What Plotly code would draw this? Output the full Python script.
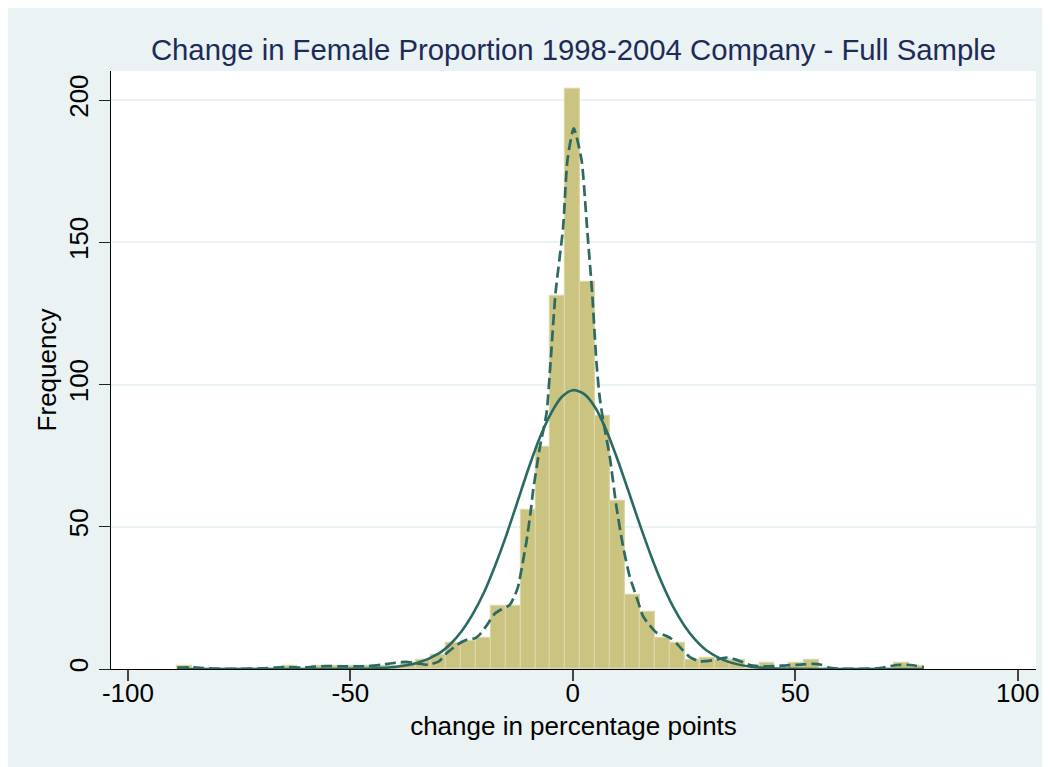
import plotly.graph_objects as go

# ---- data ----
bin_start = -88.93
bin_width = 3.356
counts = [1, 0, 0, 0, 0, 0, 0, 1, 0, 1, 1, 1, 1, 1, 1, 2, 3, 5, 9, 10,
          11, 22, 22, 56, 78, 131, 204, 136, 89, 59, 26, 20, 11, 9, 3, 4,
          3, 3, 0, 2, 0, 2, 3, 0, 0, 0, 0, 0, 2, 1]

normal_x = [-88.9, -70, -60, -50, -45, -40, -35, -30, -27.5, -25, -22.5, -20,
            -17.5, -15, -12.5, -10, -7.5, -5, -2.5, 0, 2.5, 5, 7.5, 10, 12.5,
            15, 17.5, 20, 22.5, 25, 27.5, 30, 35, 40, 45, 50, 60, 78.9]
normal_y = [0, 0, 0, 0.05, 0.2, 0.7, 2.1, 5.6, 8.8, 13.3, 19.3, 26.8,
            36.2, 46.8, 58.5, 70.3, 81, 89.6, 95.6, 98, 96.7, 92, 84, 73.8, 62.5,
            51, 40.1, 30.3, 22, 15.4, 10.3, 6.6, 2.5, 0.8, 0.23, 0.06, 0, 0]

kernel_x = [-88.9, -86, -83, -80, -75, -70, -67, -64, -61, -58, -55, -52, -49,
            -46, -43, -40, -37.5, -35, -32.5, -30, -28.4, -26, -24, -22, -21,
            -19.5, -17.5, -16, -14.2, -13, -12.3, -11.3, -10.4, -9.5, -8.9,
            -7.4, -5.9, -5, -3.9, -2.2, -1.2, 0.2, 1.95, 3.2, 4.35, 5.3, 6.0,
            6.8, 8.3, 9.8, 11.3, 12.8, 14.3, 15.8, 17.2, 18.8, 20.3, 22, 23.3,
            24.8, 26.3, 28.5, 30, 31.5, 34.5, 36.8, 39.8, 42.8, 45.5, 48, 51,
            54, 56, 57.5, 60, 65, 69, 71, 73, 76, 78.9]
kernel_y = [0.5, 0.6, 0.3, 0.1, 0.05, 0.2, 0.5, 0.7, 0.5, 0.8, 1.0, 0.9, 0.9,
            1.0, 1.5, 2.2, 2.5, 2.0, 1.5, 2.8, 5.5, 8.5, 10.2, 10.8, 12,
            15, 19.5, 21, 22.5, 26, 29, 37, 45, 55, 63,
            78, 90, 108, 132, 155, 179, 190, 179, 155, 132, 108, 96,
            87.5, 74.6, 57, 43, 32.4, 25.4, 18.5, 15.5, 12.8, 12.0, 10.8, 9.0,
            6.5, 4.2, 2.7, 2.8, 3.1, 4.0, 3.2, 1.4, 0.9, 1.0, 1.3, 1.5,
            1.8, 1.4, 0.5, 0.1, 0.05, 0.3, 0.9, 1.4, 1.4, 0.6]

title_text = "Change in Female Proportion 1998-2004 Company - Full Sample"
x_title = "change in percentage points"
y_title = "Frequency"
x_ticks = [-100, -50, 0, 50, 100]
x_ticklabels = ["-100", "-50", "0", "50", "100"]
y_ticks = [0, 50, 100, 150, 200]

# ---- styling ----
BG = "#eaf2f3"
BAR = "#cbc380"
BAR_EDGE = "#dcd7a6"
LINE = "#2a6a62"
FONT = "Liberation Sans, Arial, sans-serif"

centers = [bin_start + (i + 0.5) * bin_width for i in range(len(counts))]

fig = go.Figure()
fig.add_trace(go.Bar(x=centers, y=counts, width=bin_width,
                     marker=dict(color=BAR, line=dict(color=BAR_EDGE, width=1.2)),
                     showlegend=False, hoverinfo="skip"))
fig.add_trace(go.Scatter(x=kernel_x, y=kernel_y, mode="lines",
                         line=dict(color=LINE, width=2.7, dash="11px,5px", shape="spline", smoothing=0.6),
                         showlegend=False, hoverinfo="skip"))
fig.add_trace(go.Scatter(x=normal_x, y=normal_y, mode="lines",
                         line=dict(color=LINE, width=2.6, shape="spline", smoothing=0.8),
                         showlegend=False, hoverinfo="skip"))

# page has an 8px body margin; figure fills the rest of the window
W, H = 1042, 759
L, R, T, B = 103, 14, 63, 98

fig.update_layout(
    width=W, height=H,
    margin=dict(l=L, r=R, t=T, b=B, autoexpand=False),
    paper_bgcolor=BG, plot_bgcolor="white",
    bargap=0,
    font=dict(family=FONT, color="black", size=26),
    title=dict(text=title_text, x=0.5, xref="paper", xanchor="center",
               y=1 - 42 / H, yanchor="middle",
               font=dict(family=FONT, size=29.3, color="#1e2b58")),
    xaxis=dict(range=[-103.8, 104.1], tickvals=x_ticks, ticktext=x_ticklabels,
               ticks="outside", ticklen=11,
               tickwidth=1.5, tickcolor="#444", showgrid=False, zeroline=False,
               showline=True, linecolor="black", linewidth=1.3,
               tickfont=dict(size=26), automargin=False, ticklabelstandoff=-10,
               title=dict(text=x_title, font=dict(size=26), standoff=9)),
    yaxis=dict(range=[0, 210.2], tickvals=y_ticks, ticks="outside", ticklen=11,
               tickwidth=1.3, tickcolor="#222", tickangle=-90,
               showgrid=True, gridcolor=BG, gridwidth=2, zeroline=False,
               showline=True, linecolor="black", linewidth=1.3,
               tickfont=dict(size=26), automargin=False,
               title=dict(text=y_title, font=dict(size=26), standoff=0)),
)

fig.write_html("out.html")
